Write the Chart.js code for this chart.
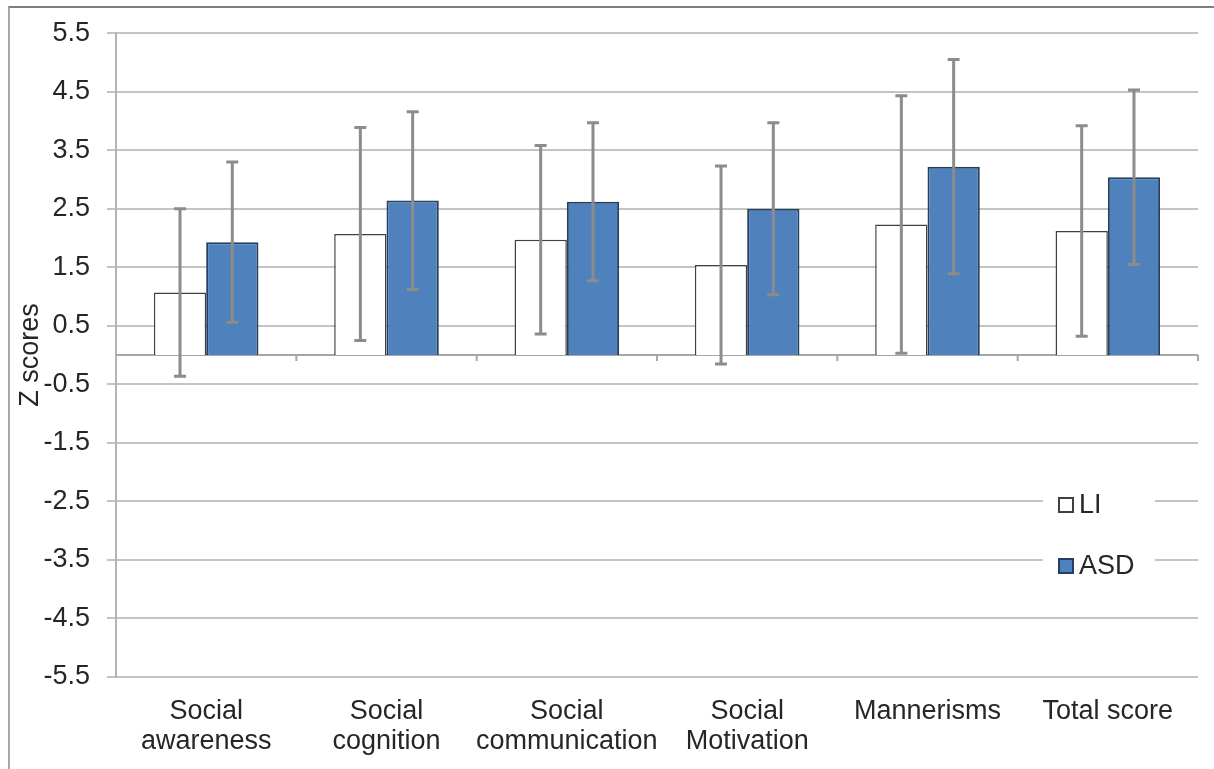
<!DOCTYPE html>
<html>
<head>
<meta charset="utf-8">
<script src="https://cdn.jsdelivr.net/npm/chart.js@4/dist/chart.umd.min.js"></script>
<style>
  body { margin: 0; background: #fff; }
  #frame { position: absolute; left: 8px; top: 6px; right: 0; bottom: 0;
           border-left: 2px solid #a8a8a8; border-top: 2px solid #7f7f7f; }
  #wrap { position: absolute; left: 0; top: 0; width: 1214px; height: 769px; }
</style>
</head>
<body>
<div id="frame"></div>
<div id="wrap"><canvas id="zChart" width="1214" height="769"></canvas></div>
<script>
// categories and values
var categories = [
  ['Social', 'awareness'],
  ['Social', 'cognition'],
  ['Social', 'communication'],
  ['Social', 'Motivation'],
  'Mannerisms',
  'Total score'
];
var liMeans  = [1.07, 2.07, 1.97, 1.54, 2.23, 2.12];
var liSD     = [1.43, 1.82, 1.61, 1.69, 2.20, 1.80];
var asdMeans = [1.93, 2.64, 2.62, 2.50, 3.22, 3.04];
var asdSD    = [1.37, 1.52, 1.35, 1.47, 1.83, 1.49];
var yTicks   = [-5.5, -4.5, -3.5, -2.5, -1.5, -0.5, 0.5, 1.5, 2.5, 3.5, 4.5, 5.5];

var FONT = 'Liberation Sans, Arial, sans-serif';
var TXT = '#262626';

// zero line with category ticks, drawn like the crossing horizontal axis
var zeroAxis = {
  id: 'zeroAxis',
  beforeDatasetsDraw: function (chart) {
    var ctx = chart.ctx, x = chart.scales.x, y = chart.scales.y;
    var y0 = y.getPixelForValue(0);
    var step = (chart.chartArea.right - chart.chartArea.left) / categories.length;
    ctx.save();
    ctx.strokeStyle = '#a6a6a6';
    ctx.lineWidth = 2;
    ctx.beginPath();
    ctx.moveTo(chart.chartArea.left, y0);
    ctx.lineTo(chart.chartArea.right, y0);
    for (var i = 1; i <= categories.length; i++) {
      var px = chart.chartArea.left + i * step;
      ctx.moveTo(px, y0);
      ctx.lineTo(px, y0 + 6);
    }
    ctx.stroke();
    ctx.restore();
  }
};

var errorBars = {
  id: 'errorBars',
  afterDatasetsDraw: function (chart) {
    var ctx = chart.ctx, y = chart.scales.y;
    var sds = [liSD, asdSD];
    ctx.save();
    ctx.strokeStyle = '#8c8c8c';
    ctx.lineWidth = 3;
    chart.data.datasets.forEach(function (ds, di) {
      chart.getDatasetMeta(di).data.forEach(function (bar, i) {
        var hi = y.getPixelForValue(ds.data[i] + sds[di][i]);
        var lo = y.getPixelForValue(ds.data[i] - sds[di][i]);
        ctx.beginPath();
        ctx.moveTo(bar.x, hi); ctx.lineTo(bar.x, lo);
        ctx.moveTo(bar.x - 6, hi); ctx.lineTo(bar.x + 6, hi);
        ctx.moveTo(bar.x - 6, lo); ctx.lineTo(bar.x + 6, lo);
        ctx.stroke();
      });
    });
    ctx.restore();
  }
};

var boxLegend = {
  id: 'boxLegend',
  afterDraw: function (chart) {
    var ctx = chart.ctx;
    ctx.save();
    ctx.fillStyle = '#fff';
    ctx.fillRect(1043, 482, 112, 108);
    chart.data.datasets.forEach(function (ds, i) {
      var cy = 505 + i * 61;
      ctx.fillStyle = ds.backgroundColor;
      ctx.strokeStyle = ds.borderColor;
      ctx.lineWidth = 2;
      ctx.fillRect(1059, cy - 7, 14, 14);
      ctx.strokeRect(1059, cy - 7, 14, 14);
      ctx.fillStyle = TXT;
      ctx.font = '27px ' + FONT;
      ctx.textBaseline = 'middle';
      ctx.fillText(ds.label, 1079, cy + 1);
    });
    ctx.restore();
  }
};

new Chart(document.getElementById('zChart'), {
  type: 'bar',
  data: {
    labels: categories,
    datasets: [
      { label: 'LI', data: liMeans, backgroundColor: '#ffffff',
        borderColor: '#404040', borderWidth: 1.5 },
      { label: 'ASD', data: asdMeans, backgroundColor: '#4f81bd',
        borderColor: '#243f60', borderWidth: 2 }
    ]
  },
  options: {
    responsive: false,
    animation: false,
    layout: { padding: { left: 17, right: 16, top: 31, bottom: 0 } },
    datasets: { bar: { categoryPercentage: 0.58, barPercentage: 1.0 } },
    plugins: { legend: { display: false }, tooltip: { enabled: false } },
    scales: {
      x: {
        grid: { display: false, drawTicks: false },
        border: { display: false },
        ticks: { color: TXT, padding: 20, maxRotation: 0, autoSkip: false,
                 font: { family: FONT, size: 27, lineHeight: 1.11 } },
        afterFit: function (s) { s.height = 92; }
      },
      y: {
        min: -5.5, max: 5.5,
        afterBuildTicks: function (s) {
          s.ticks = yTicks.map(function (v) { return { value: v }; });
        },
        grid: { color: '#c4c4c4', lineWidth: 2, tickLength: 9 },
        border: { color: '#b4b4b4', width: 2 },
        ticks: { color: TXT, padding: 17,
                 font: { family: FONT, size: 27 },
                 callback: function (v) { return v.toFixed(1); } },
        title: { display: true, text: 'Z scores', color: TXT, padding: 0,
                 font: { family: FONT, size: 27, lineHeight: 1 } },
        afterFit: function (s) { s.width = 99; }
      }
    }
  },
  plugins: [zeroAxis, errorBars, boxLegend]
});
</script>
</body>
</html>
